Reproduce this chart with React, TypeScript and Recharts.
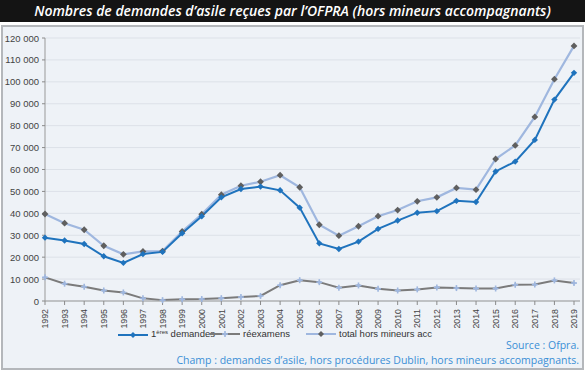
import React from "react";
import { LineChart, Line, XAxis, YAxis, CartesianGrid } from "recharts";

const YEARS = [
  1992, 1993, 1994, 1995, 1996, 1997, 1998, 1999, 2000, 2001, 2002, 2003, 2004, 2005,
  2006, 2007, 2008, 2009, 2010, 2011, 2012, 2013, 2014, 2015, 2016, 2017, 2018, 2019,
];

// 1ères demandes
const FIRST = [
  28900, 27600, 26000, 20400, 17400, 21400, 22400, 30900, 38700, 47300, 51100, 52200, 50500, 42600,
  26300, 23700, 27100, 32900, 36700, 40300, 41000, 45700, 45200, 59100, 63600, 73500, 91900, 104100,
];

// réexamens
const REEXAM = [
  10800, 7900, 6500, 4800, 3900, 1200, 400, 800, 900, 1300, 1800, 2300, 7200, 9500,
  8600, 6100, 7100, 5600, 4800, 5300, 6200, 5900, 5700, 5700, 7400, 7500, 9400, 8200,
];

// total hors mineurs acc
const TOTAL = [
  39700, 35500, 32500, 25200, 21300, 22600, 22800, 31700, 39600, 48500, 52600, 54400, 57400, 51900,
  34800, 29800, 34100, 38700, 41500, 45500, 47300, 51600, 50800, 64800, 71000, 84000, 101200, 116400,
];

const Y_TICKS = [0, 10000, 20000, 30000, 40000, 50000, 60000, 70000, 80000, 90000, 100000, 110000, 120000];

const BLUE = "#1f73bd";
const LIGHT_BLUE = "#9fb7df";
const GRAY = "#7b7b7b";
const DARK_GRAY = "#5f5f5f";
const TEXT_BLUE = "#3a8fd6";
const FONT = "'Liberation Sans', Arial, sans-serif";

const data = YEARS.map((y, i) => ({
  year: y,
  first: FIRST[i],
  reexam: REEXAM[i],
  total: TOTAL[i],
}));

const fmt = (v: number) => v.toLocaleString("en-US").replace(/,/g, " ");

function Diamond({ cx, cy, fill, r = 3.2 }: any) {
  if (cx == null || cy == null) return null;
  return (
    <polygon
      points={`${cx},${cy - r} ${cx + r},${cy} ${cx},${cy + r} ${cx - r},${cy}`}
      fill={fill}
    />
  );
}

function Star({ cx, cy, fill, r = 3 }: any) {
  if (cx == null || cy == null) return null;
  return (
    <g stroke={fill} strokeWidth={1.6}>
      <line x1={cx - r} y1={cy} x2={cx + r} y2={cy} />
      <line x1={cx} y1={cy - r} x2={cx} y2={cy + r} />
      <circle cx={cx} cy={cy} r={1.6} fill={fill} stroke="none" />
    </g>
  );
}

function YearTick({ x, y, payload }: any) {
  return (
    <text
      x={0}
      y={0}
      transform={`translate(${x + 3.2},${y + 2}) rotate(-90)`}
      textAnchor="end"
      fontSize={8.8}
      fill="#444"
      fontFamily={FONT}
    >
      {payload.value}
    </text>
  );
}

function ValueTick({ x, y, payload }: any) {
  return (
    <text x={x - 1} y={y + 3.5} textAnchor="end" fontSize={9.5} fill="#444" fontFamily={FONT}>
      {fmt(payload.value)}
    </text>
  );
}

function LegendItem({ left, label, line, dot }: { left: number; label: React.ReactNode; line: string; dot: React.ReactNode }) {
  return (
    <div style={{ position: "absolute", left, top: 0, display: "flex", alignItems: "center", whiteSpace: "nowrap" }}>
      <svg width={30} height={10} style={{ marginRight: 3 }}>
        <line x1={0} y1={5} x2={30} y2={5} stroke={line} strokeWidth={2} />
        {dot}
      </svg>
      <span>{label}</span>
    </div>
  );
}

export default function App() {
  return (
    <div
      style={{
        position: "absolute",
        left: 0,
        top: 0,
        width: 585,
        height: 371,
        background: "#fff",
        fontFamily: FONT,
      }}
    >
      <div
        style={{
          position: "absolute",
          left: 0,
          top: 0,
          width: 585,
          height: 22,
          background: "#141414",
          color: "#fff",
          fontFamily: "'Open Sans', sans-serif",
          fontStyle: "italic",
          fontWeight: 600,
          fontSize: 14,
          lineHeight: "22px",
          textAlign: "center",
        }}
      >
        Nombres de demandes d’asile reçues par l’OFPRA (hors mineurs accompagnants)
      </div>
      <div
        style={{
          position: "absolute",
          left: 1,
          top: 25,
          width: 579,
          height: 341,
          background: "#eef2f7",
          border: "2px solid #b4b7bb",
        }}
      />
      <div style={{ position: "absolute", left: 0, top: 0 }}>
        <LineChart
          width={585}
          height={371}
          data={data}
          margin={{ top: 38, right: 5, bottom: 0, left: 0 }}
        >
          <CartesianGrid horizontal vertical={false} stroke="#dce1e8" strokeWidth={1} />
          <XAxis
            dataKey="year"
            type="category"
            interval={0}
            height={70}
            padding={{ left: 0, right: 6 }}
            tick={<YearTick />}
            tickSize={4}
            tickLine={{ stroke: "#8a8a8a" }}
            axisLine={{ stroke: "#999" }}
          />
          <YAxis
            width={45}
            domain={[0, 120000]}
            ticks={Y_TICKS}
            interval={0}
            tickSize={3}
            tickLine={{ stroke: "#8a8a8a" }}
            axisLine={{ stroke: "#999" }}
            tick={<ValueTick />}
          />
          <Line
            dataKey="reexam"
            stroke={GRAY}
            strokeWidth={2}
            isAnimationActive={false}
            dot={(p: any) => <Star key={p.index} {...p} fill={LIGHT_BLUE} />}
          />
          <Line
            dataKey="total"
            stroke={LIGHT_BLUE}
            strokeWidth={2.2}
            isAnimationActive={false}
            dot={(p: any) => <Diamond key={p.index} {...p} fill={DARK_GRAY} r={3.4} />}
          />
          <Line
            dataKey="first"
            stroke={BLUE}
            strokeWidth={2}
            isAnimationActive={false}
            dot={(p: any) => <Diamond key={p.index} {...p} fill={BLUE} r={3.2} />}
          />
        </LineChart>
      </div>
      <div
        style={{
          position: "absolute",
          left: 0,
          top: 328,
          width: 585,
          height: 12,
          fontSize: 9.5,
          color: "#333",
          lineHeight: "12px",
        }}
      >
        <LegendItem
          left={118}
          label={
            <>
              1<span style={{ fontSize: 6, position: "relative", top: -3 }}>ères</span> demandes
            </>
          }
          line={BLUE}
          dot={<Diamond cx={15} cy={5} fill={BLUE} r={3} />}
        />
        <LegendItem
          left={210}
          label="réexamens"
          line={GRAY}
          dot={<Star cx={15} cy={5} fill={LIGHT_BLUE} r={3} />}
        />
        <LegendItem
          left={306}
          label="total hors mineurs acc"
          line={LIGHT_BLUE}
          dot={<Diamond cx={15} cy={5} fill={DARK_GRAY} r={3} />}
        />
      </div>
      <div
        style={{
          position: "absolute",
          right: 6,
          top: 338,
          color: TEXT_BLUE,
          fontFamily: "'Open Sans', sans-serif",
          fontSize: 10.5,
          textAlign: "right",
          lineHeight: "15px",
        }}
      >
        <div>Source : Ofpra.</div>
        <div>Champ : demandes d’asile, hors procédures Dublin, hors mineurs accompagnants.</div>
      </div>
    </div>
  );
}
